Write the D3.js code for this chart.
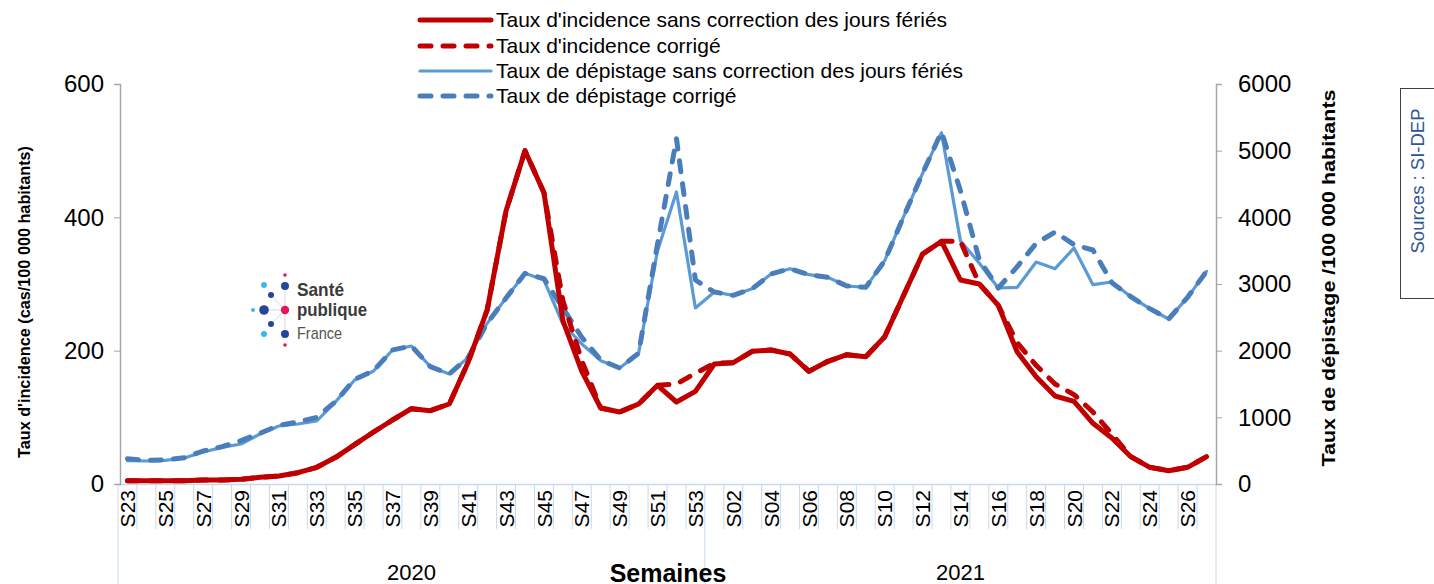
<!DOCTYPE html>
<html>
<head>
<meta charset="utf-8">
<script src="https://cdn.jsdelivr.net/npm/d3@7"></script>
<style>
  html, body { margin: 0; padding: 0; background: #fff; }
  svg { display: block; font-family: "Liberation Sans", Arial, sans-serif; }
</style>
</head>
<body>
<svg id="chart" width="1434" height="584"></svg>
<script>
// ---------------- DATA ----------------
const weeks = [
  "S23","S24","S25","S26","S27","S28","S29","S30","S31","S32","S33","S34","S35","S36","S37","S38",
  "S39","S40","S41","S42","S43","S44","S45","S46","S47","S48","S49","S50","S51","S52","S53",
  "S01","S02","S03","S04","S05","S06","S07","S08","S09","S10","S11","S12","S13","S14","S15",
  "S16","S17","S18","S19","S20","S21","S22","S23","S24","S25","S26","S27"
];
const years = ["2020", "2021"];
const weeksPerYear = [31, 27];

const incidence = [
  5, 5, 5, 5, 6, 6, 7, 10, 12, 17, 25, 40, 59, 78, 96, 113,
  110, 120, 183, 261, 410, 500, 437, 245, 169, 114, 108, 120, 148, 123, 139,
  180, 182, 199, 201, 195, 169, 184, 194, 191, 221, 283, 345, 364, 306, 300,
  268, 198, 161, 132, 124, 91, 69, 41, 25, 20, 25, 41
];
const incidenceCorr = [
  5, 5, 5, 5, 6, 6, 7, 10, 12, 17, 25, 40, 59, 78, 96, 113,
  110, 120, 183, 261, 410, 500, 437, 275, 185, 114, 108, 120, 148, 150, 166,
  181, 182, 199, 201, 195, 169, 184, 194, 191, 221, 283, 345, 364, 364, 300,
  268, 212, 178, 150, 134, 108, 75, 41, 25, 20, 25, 41
];
const depistage = [
  350, 345, 355, 390, 480, 550, 600, 750, 870, 900, 945, 1235, 1560, 1695, 2010, 2070,
  1760, 1650, 1900, 2410, 2790, 3160, 3060, 2400, 2100, 1850, 1740, 1960, 3500, 4380, 2640,
  2880, 2830, 2930, 3150, 3230, 3140, 3100, 2970, 2950, 3350, 4010, 4660, 5270, 3650, 3310,
  2940, 2950, 3330, 3230, 3540, 2990, 3030, 2810, 2630, 2475, 2800, 3190
];
const depistageCorr = [
  380, 355, 360, 395, 495, 560, 650, 760, 880, 930, 1000, 1240, 1570, 1700, 2010, 2070,
  1760, 1650, 1900, 2410, 2790, 3160, 3080, 2640, 2200, 1860, 1740, 1960, 3600, 5180, 3060,
  2880, 2830, 2930, 3150, 3230, 3140, 3100, 2970, 2950, 3350, 4010, 4660, 5280, 4400, 3360,
  2940, 3260, 3610, 3780, 3590, 3510, 3020, 2810, 2630, 2475, 2800, 3190
];
const leftTicks = [0, 200, 400, 600];
const rightTicks = [0, 1000, 2000, 3000, 4000, 5000, 6000];
const legendLabels = [
  "Taux d'incidence sans correction des jours fériés",
  "Taux d'incidence corrigé",
  "Taux de dépistage sans correction des jours fériés",
  "Taux de dépistage corrigé"
];

// ---------------- LAYOUT ----------------
const svg = d3.select("#chart");
const pL = 118, pR = 1216, pT = 84, pB = 484;
const RED = "#C00000", LBLUE = "#5B9BD5", DBLUE = "#4A7EBB", GRID = "#C6D9F1";

const x = d3.scaleBand().domain(d3.range(weeks.length)).range([pL, pR]).paddingInner(0).paddingOuter(0);
const yL = d3.scaleLinear().domain([0, 600]).range([pB, pT]);
const yR = d3.scaleLinear().domain([0, 6000]).range([pB, pT]);
const cx = i => x(i) + x.bandwidth() / 2;

// category separators below x axis
const bounds = d3.range(weeks.length + 1).map(i => i < weeks.length ? x(i) : x(weeks.length - 1) + x.bandwidth());
const yearBounds = [0, weeksPerYear[0], weeks.length];
svg.append("g").selectAll("line").data(bounds).join("line")
  .attr("x1", d => d).attr("x2", d => d)
  .attr("y1", pB).attr("y2", (d, i) => yearBounds.includes(i) ? 584 : 529)
  .attr("stroke", GRID).attr("stroke-width", 1);

// x axis
const xAxis = d3.axisBottom(x)
  .tickValues(d3.range(0, weeks.length, 2))
  .tickFormat(i => weeks[i]).tickSize(0);
const gx = svg.append("g").attr("transform", `translate(0,${pB})`).call(xAxis);
gx.select(".domain").attr("stroke", GRID).attr("stroke-width", 1.5);
gx.selectAll("text")
  .attr("transform", "rotate(-90)")
  .attr("x", -6).attr("y", 0).attr("dy", "0.36em")
  .attr("text-anchor", "end")
  .attr("font-size", 21).attr("fill", "#000")
  .attr("font-family", "Liberation Sans, Arial, sans-serif");

// year labels
const yearCenters = [
  (x(0) + x(weeksPerYear[0] - 1) + x.bandwidth()) / 2,
  (x(weeksPerYear[0]) + x(weeks.length - 1) + x.bandwidth()) / 2
];
svg.append("g").selectAll("text").data(years).join("text")
  .attr("x", (d, i) => yearCenters[i]).attr("y", 580)
  .attr("text-anchor", "middle").attr("font-size", 22).attr("fill", "#000")
  .text(d => d);
svg.append("text").attr("x", 668).attr("y", 582).attr("text-anchor", "middle")
  .attr("font-size", 25).attr("font-weight", "bold").attr("fill", "#000").text("Semaines");

// left axis
const gL = svg.append("g").attr("transform", `translate(${pL + 2},0)`)
  .call(d3.axisLeft(yL).tickValues(leftTicks).tickSize(6).tickPadding(10));
gL.select(".domain").attr("stroke", "#A6A6A6").attr("stroke-width", 1.5);
gL.selectAll(".tick line").attr("stroke", "#A6A6A6");
gL.selectAll("text").attr("font-size", 24).attr("fill", "#000").attr("font-family", "Liberation Sans, Arial, sans-serif");

// right axis
const gR = svg.append("g").attr("transform", `translate(${pR},0)`)
  .call(d3.axisRight(yR).tickValues(rightTicks).tickFormat(d3.format("d")).tickSize(6).tickPadding(16));
gR.select(".domain").attr("stroke", "#A6A6A6").attr("stroke-width", 1.5);
gR.selectAll(".tick line").attr("stroke", "#A6A6A6");
gR.selectAll("text").attr("font-size", 24).attr("fill", "#000").attr("font-family", "Liberation Sans, Arial, sans-serif");

// axis titles
svg.append("text")
  .attr("transform", "translate(30,302) rotate(-90)")
  .attr("text-anchor", "middle").attr("font-size", 17).attr("font-weight", "bold")
  .attr("font-family", "Liberation Sans Narrow, Arial Narrow, sans-serif")
  .attr("textLength", 312).attr("lengthAdjust", "spacingAndGlyphs")
  .text("Taux d'incidence (cas/100 000 habitants)");
svg.append("text")
  .attr("transform", "translate(1335,278) rotate(-90)")
  .attr("text-anchor", "middle").attr("font-size", 18).attr("font-weight", "bold")
  .attr("textLength", 377).attr("lengthAdjust", "spacingAndGlyphs")
  .text("Taux de dépistage /100 000 habitants");

// ---------------- LOGO ----------------
const logo = svg.append("g");
const lc = [285, 310];
[[285, 286], [285, 334], [264, 310], [271, 295], [271, 324]].forEach(p => {
  logo.append("line").attr("x1", lc[0]).attr("y1", lc[1]).attr("x2", p[0]).attr("y2", p[1])
    .attr("stroke", "#D5D8E0").attr("stroke-width", 1);
});
const dots = [
  [285, 275, 1.8, "#E6145A"], [264, 285, 3, "#3DB8EA"], [285, 286, 4, "#27449B"],
  [271, 295, 3, "#27449B"], [253, 310, 2, "#3DB8EA"], [264, 310, 4.8, "#27449B"],
  [285, 310, 4.2, "#E6145A"], [271, 324, 3, "#27449B"], [264, 334, 3, "#3DB8EA"],
  [285, 334, 4, "#27449B"], [285, 345, 1.8, "#E6145A"]
];
logo.selectAll("circle").data(dots).join("circle")
  .attr("cx", d => d[0]).attr("cy", d => d[1]).attr("r", d => d[2]).attr("fill", d => d[3]);
const lf = "Liberation Sans Narrow, Arial Narrow, sans-serif";
logo.append("text").attr("x", 297).attr("y", 296).attr("font-family", lf).attr("font-weight", "bold")
  .attr("font-size", 19).attr("fill", "#3A3A3A").attr("textLength", 47).attr("lengthAdjust", "spacingAndGlyphs").text("Santé");
logo.append("text").attr("x", 297).attr("y", 316).attr("font-family", lf).attr("font-weight", "bold")
  .attr("font-size", 19).attr("fill", "#3A3A3A").attr("textLength", 70).attr("lengthAdjust", "spacingAndGlyphs").text("publique");
logo.append("text").attr("x", 297).attr("y", 339).attr("font-family", lf)
  .attr("font-size", 17).attr("fill", "#555").attr("textLength", 45).attr("lengthAdjust", "spacingAndGlyphs").text("France");

// ---------------- LINES ----------------
const lineL = d3.line().x((d, i) => cx(i)).y(d => yL(d)).defined(d => d != null);
const lineR = d3.line().x((d, i) => cx(i)).y(d => yR(d)).defined(d => d != null);
const series = [
  { data: depistage, gen: lineR, color: LBLUE, w: 3.2, dash: null },
  { data: depistageCorr, gen: lineR, color: DBLUE, w: 5, dash: "11,12" },
  { data: incidence, gen: lineL, color: RED, w: 5, dash: null },
  { data: incidenceCorr, gen: lineL, color: RED, w: 5, dash: "11,12" }
];
svg.append("g").selectAll("path").data(series).join("path")
  .attr("d", s => s.gen(s.data))
  .attr("fill", "none").attr("stroke", s => s.color).attr("stroke-width", s => s.w)
  .attr("stroke-linejoin", "round").attr("stroke-linecap", "round")
  .attr("stroke-dasharray", s => s.dash);

// ---------------- LEGEND ----------------
const leg = svg.append("g");
const legRows = [20, 46, 71, 96];
const legStyles = [
  { color: RED, w: 5, dash: null },
  { color: RED, w: 5, dash: "11,12" },
  { color: LBLUE, w: 3.2, dash: null },
  { color: DBLUE, w: 5, dash: "11,12" }
];
legendLabels.forEach((lab, i) => {
  leg.append("line").attr("x1", 420).attr("x2", 491).attr("y1", legRows[i]).attr("y2", legRows[i])
    .attr("stroke", legStyles[i].color).attr("stroke-width", legStyles[i].w)
    .attr("stroke-linecap", "round").attr("stroke-dasharray", legStyles[i].dash);
  leg.append("text").attr("x", 496).attr("y", legRows[i]).attr("dy", "0.35em")
    .attr("font-size", 21).attr("fill", "#000").text(lab);
});

// ---------------- SOURCE BOX ----------------
svg.append("rect").attr("x", 1400.5).attr("y", 88.5).attr("width", 40).attr("height", 210)
  .attr("fill", "#fff").attr("stroke", "#404040").attr("stroke-width", 1);
svg.append("text").attr("transform", "translate(1424,181) rotate(-90)")
  .attr("text-anchor", "middle").attr("font-size", 18.5).attr("fill", "#2F5597")
  .text("Sources : SI-DEP");
</script>
</body>
</html>
